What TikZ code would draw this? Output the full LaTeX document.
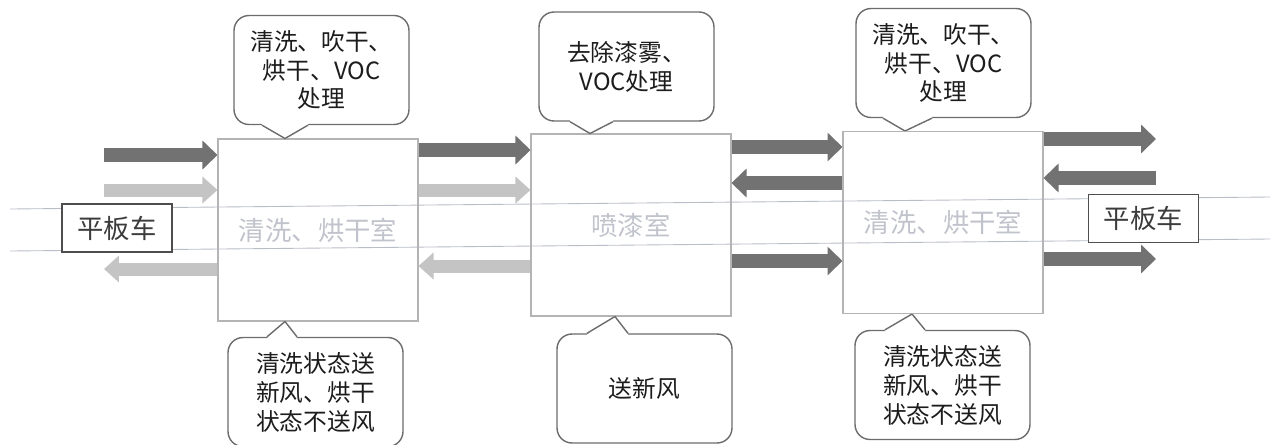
\documentclass[tikz,border=0pt]{standalone}
\usepackage{fontspec}
\setmainfont{Noto Sans CJK SC}
\usepackage{xcolor}
\usetikzlibrary{arrows.meta}

\definecolor{arrDark}{HTML}{727272}
\definecolor{arrLight}{HTML}{C4C4C4}
\definecolor{roomLine}{HTML}{B4B4B4}
\definecolor{roomText}{HTML}{C0C3CB}
\definecolor{railLine}{HTML}{B9BDC7}
\definecolor{cartLine}{HTML}{4E4E4E}
\definecolor{cartText}{HTML}{3C3C3C}
\definecolor{noteLine}{HTML}{6C6C6C}
\definecolor{noteText}{HTML}{1C1C1C}

\tikzset{
  room/.style={draw=roomLine, line width=0.6pt, minimum width=4cm, minimum height=3.64cm, inner sep=0pt, text=roomText, font=\fontsize{15}{18}\selectfont},
  cart/.style={draw=cartLine, line width=0.9pt, fill=white, minimum width=2.2cm, minimum height=0.96cm, inner sep=0pt, text=cartText, font=\fontsize{15}{18}\selectfont},
  note/.style={draw=noteLine, line width=0.8pt, rounded corners=0.3cm, minimum width=3.5cm, minimum height=2.18cm, inner sep=0pt, align=center, text=noteText, font=\fontsize{13.5}{16.5}\selectfont},
  noteline/.style={draw=noteLine, line width=0.8pt, line join=round},
  rail/.style={draw=railLine, line width=0.5pt},
  flowdark/.style={draw=arrDark, fill=arrDark, line width=0.28cm, -{Triangle[length=0.3cm, width=0.56cm]}},
  flowlight/.style={draw=arrLight, fill=arrLight, line width=0.26cm, -{Triangle[length=0.3cm, width=0.52cm]}}
}

\begin{document}
\begin{tikzpicture}[x=0.02cm, y=-0.02cm]
\useasboundingbox (0,0) rectangle (1279,444);

\draw[rail] (10,209) -- (1270,197);
\draw[rail] (10,251) -- (1270,239);

\node[room] (wash1) at (318,230) {清洗、烘干室};
\node[room] (paint) at (631,225) {喷漆室};
\node[room] (wash2) at (943,222.5) {清洗、烘干室};

\node[cart] (cartL) at (117,228) {平板车};
\node[cart] (cartR) at (1143.5,218.5) {平板车};

\coordinate (leftEnd) at (104,0);
\coordinate (rightEnd) at (1156,0);

\draw[flowdark] (leftEnd |- 0,155) -- (wash1.west |- 0,155);
\draw[flowlight] (leftEnd |- 0,190) -- (wash1.west |- 0,190);
\draw[flowlight] (wash1.west |- 0,269) -- (leftEnd |- 0,269);

\draw[flowdark] (wash1.east |- 0,150) -- (paint.west |- 0,150);
\draw[flowlight] (wash1.east |- 0,190) -- (paint.west |- 0,190);
\draw[flowlight] (paint.west |- 0,266) -- (wash1.east |- 0,266);

\draw[flowdark] (paint.east |- 0,147) -- (wash2.west |- 0,147);
\draw[flowdark] (wash2.west |- 0,183) -- (paint.east |- 0,183);
\draw[flowdark] (paint.east |- 0,261) -- (wash2.west |- 0,261);

\draw[flowdark] (wash2.east |- 0,139) -- (rightEnd |- 0,139);
\draw[flowdark] (rightEnd |- 0,178) -- (wash2.east |- 0,178);
\draw[flowdark] (wash2.east |- 0,259) -- (rightEnd |- 0,259);

\node[note] (noteA) at (321.5,70) {清洗、吹干、\\烘干、VOC\\处理};
\node[note] (noteB) at (626.5,66.5) {去除漆雾、\\VOC处理};
\node[note] (noteC) at (943.5,63) {清洗、吹干、\\烘干、VOC\\处理};
\node[note] (noteD) at (315.5,392) {清洗状态送\\新风、烘干\\状态不送风};
\node[note] (noteE) at (644.5,388.5) {送新风};
\node[note] (noteF) at (942.5,385) {清洗状态送\\新风、烘干\\状态不送风};

\fill[white] (262,122) -- (262,125) -- (285,138) -- (308,125) -- (308,122) -- cycle;
\draw[noteline] (noteA.south -| 262,0) -- (wash1.north -| 285,0) -- (noteA.south -| 308,0);
\fill[white] (570,118.5) -- (570,121.5) -- (590,134) -- (613,121.5) -- (613,118.5) -- cycle;
\draw[noteline] (noteB.south -| 570,0) -- (paint.north -| 590,0) -- (noteB.south -| 613,0);
\fill[white] (883,115) -- (883,118) -- (905,132) -- (932,118) -- (932,115) -- cycle;
\draw[noteline] (noteC.south -| 883,0) -- (wash2.north -| 905,0) -- (noteC.south -| 932,0);

\fill[white] (267,341) -- (267,338) -- (285,322) -- (297,338) -- (297,341) -- cycle;
\draw[noteline] (noteD.north -| 267,0) -- (wash1.south -| 285,0) -- (noteD.north -| 297,0);
\fill[white] (587,337.5) -- (587,334.5) -- (615,316) -- (628,334.5) -- (628,337.5) -- cycle;
\draw[noteline] (noteE.north -| 587,0) -- (paint.south -| 615,0) -- (noteE.north -| 628,0);
\fill[white] (885,333) -- (885,330) -- (912,313) -- (925,330) -- (925,333) -- cycle;
\draw[noteline] (noteF.north -| 885,0) -- (wash2.south -| 912,0) -- (noteF.north -| 925,0);
\end{tikzpicture}
\end{document}
